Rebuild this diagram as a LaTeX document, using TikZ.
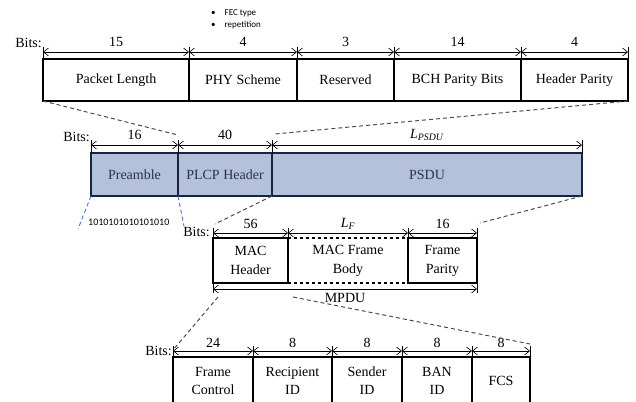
\documentclass[tikz,border=0pt]{standalone}
\usepackage{fontspec}
\setmainfont{Liberation Serif}
\setsansfont{Carlito}
\usetikzlibrary{arrows.meta}
\definecolor{plcpfill}{RGB}{180,193,218}
\definecolor{plcpline}{RGB}{25,35,70}
\definecolor{plcptext}{RGB}{45,50,75}
\definecolor{prezoom}{RGB}{70,120,205}
\tikzset{
  field/.style={draw, line width=1.1pt, inner sep=0pt, outer sep=0pt, minimum height=#1, anchor=north west, align=center, font=\fontsize{14}{19}\selectfont},
  field/.default=42,
  dim/.style={{Straight Barb[length=5pt,width=8pt]}-{Straight Barb[length=5pt,width=8pt]}, line width=0.6pt},
  tick/.style={line width=0.8pt},
  bitslabel/.style={anchor=east, inner sep=1pt, font=\fontsize{14}{16}\selectfont},
  numlabel/.style={font=\fontsize{14}{16}\selectfont},
  zoomline/.style={line width=1pt, black!70, dash pattern=on 4pt off 3pt},
  prezoomline/.style={line width=0.9pt, prezoom, dash pattern=on 4pt off 3pt}
}
\begin{document}
\begin{tikzpicture}[x=1pt, y=-1pt]
\useasboundingbox (0,0) rectangle (636,401);
\node[font=\sffamily\fontsize{9}{12}\selectfont, anchor=west, inner sep=0pt] (fec) at (211,19)
  {\begin{tabular}{@{}l@{\hspace{9pt}}l@{}}\textbullet & FEC type\\ \textbullet & repetition\end{tabular}};
\foreach \nm/\x/\w/\txt/\b in {pl/43/146/Packet Length/15, phy/189/108/PHY Scheme/4, res/297/97/Reserved/3, bch/394/127/BCH Parity Bits/14, hp/521/107/Header Parity/4}
{
  \node[field=42, minimum width=\w] (\nm) at (\x,59) {\txt};
  \draw[dim] ([yshift=7pt]\nm.north west) -- ([yshift=7pt]\nm.north east) node[numlabel, midway, yshift=10pt] {\b};
  \draw[tick] ([yshift=12pt]\nm.north west) -- (\nm.north west);
}
\draw[tick] ([yshift=12pt]hp.north east) -- (hp.north east);
\node[bitslabel] (bits1) at ([yshift=16pt]pl.north west) {Bits:};
\foreach \nm/\x/\w/\txt/\b in {pre/91/87/Preamble/16, plcp/178/94/PLCP Header/40, psdu/272/310/PSDU/{\textit{L}\textsubscript{\textit{PSDU}}}}
{
  \node[field=43, minimum width=\w, fill=plcpfill, draw=plcpline, text=plcptext] (\nm) at (\x,153) {\txt};
  \draw[dim] ([yshift=8pt]\nm.north west) -- ([yshift=8pt]\nm.north east) node[numlabel, midway, yshift=10pt] {\b};
  \draw[tick] ([yshift=13pt]\nm.north west) -- (\nm.north west);
}
\draw[tick] ([yshift=13pt]psdu.north east) -- (psdu.north east);
\node[bitslabel] (bits2) at ([yshift=16pt]pre.north west) {Bits:};
\node[font=\sffamily\fontsize{10}{12}\selectfont, anchor=west, inner sep=0pt] (pbits) at (88,222) {1010101010101010};
\coordinate (pz1) at (78,229);
\coordinate (pz2) at (184,226);
\draw[prezoomline] (pre.south west) -- (pz1);
\draw[prezoomline] (pre.south east) -- (pz2);
\draw[zoomline] (pl.south west) -- ([yshift=18pt]plcp.north west);
\draw[zoomline] (hp.south east) -- ([shift={(3pt,19pt)}]psdu.north west);
\node[field=45, minimum width=120, dashed] (mfb) at (288,238) {MAC Frame\\Body};
\node[field=45, minimum width=75] (mh) at (213,238) {MAC\\Header};
\node[field=45, minimum width=69] (fp) at (408,238) {Frame\\Parity};
\foreach \nm/\b in {mh/56, mfb/{\textit{L}\textsubscript{\textit{F}}}, fp/16}
{
  \draw[dim] ([yshift=5pt]\nm.north west) -- ([yshift=5pt]\nm.north east) node[numlabel, midway, yshift=9pt] {\b};
  \draw[tick] ([yshift=10pt]\nm.north west) -- (\nm.north west);
}
\draw[tick] ([yshift=10pt]fp.north east) -- (fp.north east);
\node[bitslabel] (bits3) at ([shift={(-2pt,6pt)}]mh.north west) {Bits:};
\draw[dim] ([yshift=-6pt]mh.south west) -- ([yshift=-6pt]fp.south east) node[numlabel, midway, yshift=-9pt] {MPDU};
\draw[tick] (mh.south west) -- ([yshift=-10pt]mh.south west);
\draw[tick] (fp.south east) -- ([yshift=-10pt]fp.south east);
\draw[zoomline] (psdu.south west) -- ([shift={(2pt,14pt)}]mh.north west);
\draw[zoomline] (psdu.south east) -- ([shift={(3pt,15pt)}]fp.north east);
\foreach \nm/\x/\w/\txt/\b in {fc/173/80/Frame\\Control/24, rid/253/79/Recipient\\ID/8, sid/332/70/Sender\\ID/8, ban/402/70/BAN\\ID/8, fcs/472/58/FCS/8}
{
  \node[field=47, minimum width=\w, font=\fontsize{14}{18}\selectfont] (\nm) at (\x,357) {\txt};
  \draw[dim] ([yshift=6pt]\nm.north west) -- ([yshift=6pt]\nm.north east) node[numlabel, midway, yshift=8pt] {\b};
  \draw[tick] ([yshift=11pt]\nm.north west) -- (\nm.north west);
}
\draw[tick] ([yshift=11pt]fcs.north east) -- (fcs.north east);
\node[bitslabel] (bits4) at ([yshift=6pt]fc.north west) {Bits:};
\draw[zoomline] ([shift={(5pt,-14pt)}]mh.south west) -- ([yshift=7pt]fc.north west);
\draw[zoomline] ([shift={(5pt,-14pt)}]mfb.south west) -- ([yshift=13pt]fcs.north east);
\end{tikzpicture}
\end{document}
